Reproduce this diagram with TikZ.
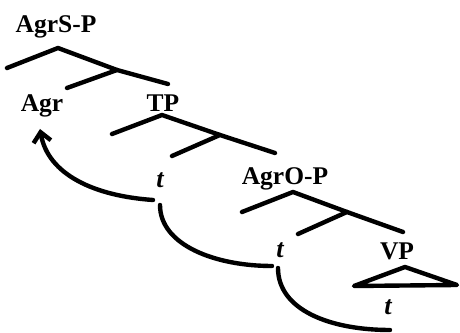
\documentclass[tikz,border=0pt]{standalone}
\usepackage{fontspec}
\setmainfont{Liberation Serif}
\usetikzlibrary{arrows.meta}

\begin{document}
\begin{tikzpicture}[x=0.02cm, y=-0.02cm, line width=2.5pt, line cap=round, line join=round,
	lbl/.style={font=\bfseries\fontsize{14.5}{16}\selectfont, inner sep=0pt, anchor=base},
	trace/.style={font=\bfseries\itshape\fontsize{15}{16}\selectfont, inner sep=0pt, anchor=base}]
		\useasboundingbox (0,0) rectangle (460,333);

		\node (agrsp) [lbl] at (56,33) {AgrS-P};
		\coordinate (s0) at (58,48);
		\coordinate (s1) at (7,68);
		\coordinate (s2) at (117,70);
		\coordinate (s3) at (67,88);
		\coordinate (s4) at (168,84);
		\draw (s1) -- (s0) -- (s2);
		\draw (s3) -- (s2) -- (s4);

		\node (agr) [lbl] at (42,112) {Agr};
		\node (tp) [lbl] at (163,112) {TP};
		\coordinate (p0) at (162,115);
		\coordinate (p1) at (112,134);
		\coordinate (p2) at (220,135);
		\coordinate (p3) at (172,156);
		\coordinate (p4) at (275,153);
		\draw (p1) -- (p0) -- (p2);
		\draw (p3) -- (p2) -- (p4);

		\node (t1) [trace] at (160,188) {t};
		\node (agrop) [lbl] at (285,185) {AgrO-P};
		\coordinate (o0) at (293,192);
		\coordinate (o1) at (242,212);
		\coordinate (o2) at (347,212);
		\coordinate (o3) at (298,234);
		\coordinate (o4) at (403,232);
		\draw (o1) -- (o0) -- (o2);
		\draw (o3) -- (o2) -- (o4);

		\node (t2) [trace] at (280,258) {t};
		\node (vp) [lbl] at (397,260) {VP};
		\coordinate (v0) at (405,267);
		\coordinate (v1) at (354,286);
		\coordinate (v2) at (457,285);
		\draw (v0) -- (v1) -- (v2) -- cycle;
		\node (t3) [trace] at (388,315) {t};

		% movement
		\coordinate (a1) at (153,200);
		\coordinate (a2) at (40,129);
		\draw[-{Straight Barb[length=5.5pt,width=10pt]}] (a1) .. controls (95,196) and (48,175) .. (a2);
		\coordinate (b1) at (160,205);
		\coordinate (b2) at (272,266);
		\draw (b1) .. controls (160,245) and (215,266) .. (b2);
		\coordinate (c1) at (278,268);
		\coordinate (c2) at (390,330);
		\draw (c1) .. controls (278,310) and (330,330) .. (c2);
	\end{tikzpicture}
\end{document}
